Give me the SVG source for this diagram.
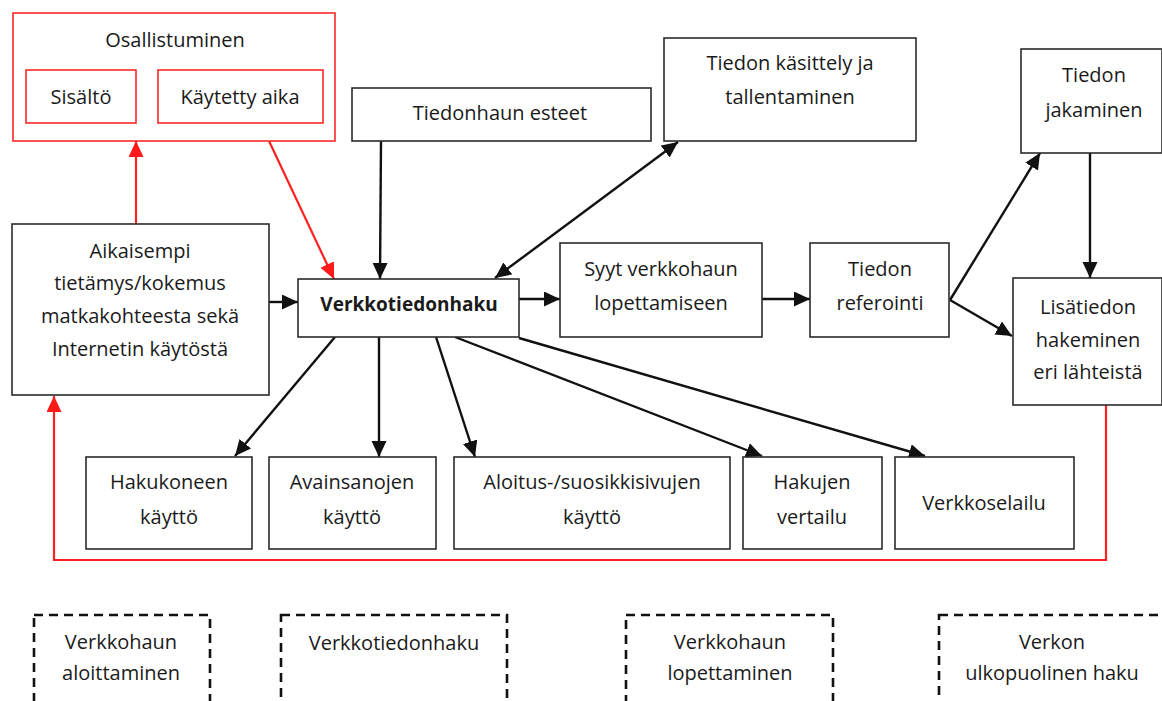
<svg xmlns="http://www.w3.org/2000/svg" width="1162" height="701" viewBox="0 0 1162 701">
  <style>
    text { font-family: "Open Sans", "Liberation Sans", sans-serif; font-size: 20px; fill: #1a1a1a; text-anchor: middle; }
    .box { fill: #ffffff; stroke: #2b2b2b; stroke-width: 1.6; }
    .rbox { fill: #ffffff; stroke: #ff2a2a; stroke-width: 1.6; }
    .dash { fill: none; stroke: #111111; stroke-width: 2.6; stroke-dasharray: 9 6; }
    .con { fill: none; stroke: #111111; stroke-width: 2.4; }
    .rcon { fill: none; stroke: #ff2020; stroke-width: 2.2; }
    .bold { font-weight: bold; font-size: 19px; }
  </style>
  <defs>
    <marker id="ah" markerUnits="userSpaceOnUse" markerWidth="17" markerHeight="16" refX="16" refY="7.5" orient="auto-start-reverse">
      <path d="M0,0 L16,7.5 L0,15 z" fill="#111111"/>
    </marker>
    <marker id="ahr" markerUnits="userSpaceOnUse" markerWidth="17" markerHeight="16" refX="16" refY="7.5" orient="auto">
      <path d="M0,0 L16,7.5 L0,15 z" fill="#ff1a1a"/>
    </marker>
  </defs>

  <rect width="1162" height="701" fill="#ffffff"/>

  <!-- connectors -->
  <g id="connectors">
    <line class="con" x1="269" y1="302" x2="298" y2="302" marker-end="url(#ah)"/>
    <line class="con" x1="381" y1="141" x2="380" y2="279" marker-end="url(#ah)"/>
    <line class="con" x1="678" y1="142" x2="495" y2="278" marker-start="url(#ah)" marker-end="url(#ah)"/>
    <line class="con" x1="519" y1="299" x2="560" y2="299" marker-end="url(#ah)"/>
    <line class="con" x1="762" y1="299" x2="810" y2="299" marker-end="url(#ah)"/>
    <line class="con" x1="950" y1="300" x2="1040" y2="153" marker-end="url(#ah)"/>
    <line class="con" x1="950" y1="300" x2="1012" y2="336" marker-end="url(#ah)"/>
    <line class="con" x1="1090" y1="153" x2="1090" y2="278" marker-end="url(#ah)"/>
    <line class="con" x1="335" y1="337" x2="235" y2="456" marker-end="url(#ah)"/>
    <line class="con" x1="379" y1="337" x2="379" y2="457" marker-end="url(#ah)"/>
    <line class="con" x1="436" y1="337" x2="475" y2="457" marker-end="url(#ah)"/>
    <line class="con" x1="455" y1="337" x2="762" y2="456" marker-end="url(#ah)"/>
    <line class="con" x1="519" y1="338" x2="925" y2="456" marker-end="url(#ah)"/>
    <line class="rcon" x1="136" y1="224" x2="136" y2="141" marker-end="url(#ahr)"/>
    <line class="rcon" x1="269" y1="141" x2="334" y2="279" marker-end="url(#ahr)"/>
    <polyline class="rcon" points="1106,405 1106,560 54,560 54,396" marker-end="url(#ahr)"/>
  </g>

  <g id="osallistuminen">
    <rect class="rbox" x="13" y="13" width="322" height="128"/>
    <text x="175" y="47">Osallistuminen</text>
  </g>
  <g id="sisalto">
    <rect class="rbox" x="26" y="70" width="110" height="53"/>
    <text x="81" y="104">Sisältö</text>
  </g>
  <g id="kaytetty-aika">
    <rect class="rbox" x="158" y="70" width="165" height="53"/>
    <text x="240" y="104">Käytetty aika</text>
  </g>

  <g id="aikaisempi">
    <rect class="box" x="12" y="224" width="257" height="171"/>
    <text x="140" y="258">Aikaisempi</text>
    <text x="140" y="290">tietämys/kokemus</text>
    <text x="140" y="323">matkakohteesta sekä</text>
    <text x="140" y="356">Internetin käytöstä</text>
  </g>

  <g id="verkkotiedonhaku">
    <rect class="box" x="298" y="279" width="221" height="58"/>
    <text class="bold" x="409" y="311">Verkkotiedonhaku</text>
  </g>

  <g id="esteet">
    <rect class="box" x="352" y="88" width="299" height="53"/>
    <text x="500" y="120">Tiedonhaun esteet</text>
  </g>

  <g id="kasittely">
    <rect class="box" x="664" y="38" width="252" height="103"/>
    <text x="790" y="70">Tiedon käsittely ja</text>
    <text x="790" y="104">tallentaminen</text>
  </g>

  <g id="syyt">
    <rect class="box" x="560" y="243" width="202" height="94"/>
    <text x="661" y="276">Syyt verkkohaun</text>
    <text x="661" y="310">lopettamiseen</text>
  </g>

  <g id="referointi">
    <rect class="box" x="810" y="243" width="139" height="94"/>
    <text x="880" y="276">Tiedon</text>
    <text x="880" y="310">referointi</text>
  </g>

  <g id="jakaminen">
    <rect class="box" x="1021" y="49" width="141" height="104"/>
    <text x="1094" y="82">Tiedon</text>
    <text x="1094" y="117">jakaminen</text>
  </g>

  <g id="lisatiedon">
    <rect class="box" x="1013" y="278" width="149" height="127"/>
    <text x="1088" y="314">Lisätiedon</text>
    <text x="1088" y="347">hakeminen</text>
    <text x="1088" y="379">eri lähteistä</text>
  </g>

  <g id="hakukone">
    <rect class="box" x="86" y="457" width="166" height="92"/>
    <text x="169" y="489">Hakukoneen</text>
    <text x="169" y="524">käyttö</text>
  </g>
  <g id="avainsanat">
    <rect class="box" x="269" y="457" width="167" height="92"/>
    <text x="352" y="489">Avainsanojen</text>
    <text x="352" y="524">käyttö</text>
  </g>
  <g id="aloitussivut">
    <rect class="box" x="454" y="457" width="276" height="92"/>
    <text x="592" y="489">Aloitus-/suosikkisivujen</text>
    <text x="592" y="524">käyttö</text>
  </g>
  <g id="vertailu">
    <rect class="box" x="743" y="457" width="139" height="92"/>
    <text x="812" y="489">Hakujen</text>
    <text x="812" y="524">vertailu</text>
  </g>
  <g id="selailu">
    <rect class="box" x="895" y="457" width="179" height="92"/>
    <text x="984" y="510">Verkkoselailu</text>
  </g>

  <g id="vaihe-aloittaminen">
    <rect class="dash" x="34" y="615" width="176" height="100"/>
    <text x="121" y="649">Verkkohaun</text>
    <text x="121" y="680">aloittaminen</text>
  </g>
  <g id="vaihe-haku">
    <rect class="dash" x="281" y="615" width="226" height="100"/>
    <text x="394" y="650">Verkkotiedonhaku</text>
  </g>
  <g id="vaihe-lopettaminen">
    <rect class="dash" x="626" y="615" width="207" height="100"/>
    <text x="730" y="649">Verkkohaun</text>
    <text x="730" y="680">lopettaminen</text>
  </g>
  <g id="vaihe-ulkopuolinen">
    <rect class="dash" x="939" y="615" width="240" height="100"/>
    <text x="1052" y="649">Verkon</text>
    <text x="1052" y="680">ulkopuolinen haku</text>
  </g>
</svg>
